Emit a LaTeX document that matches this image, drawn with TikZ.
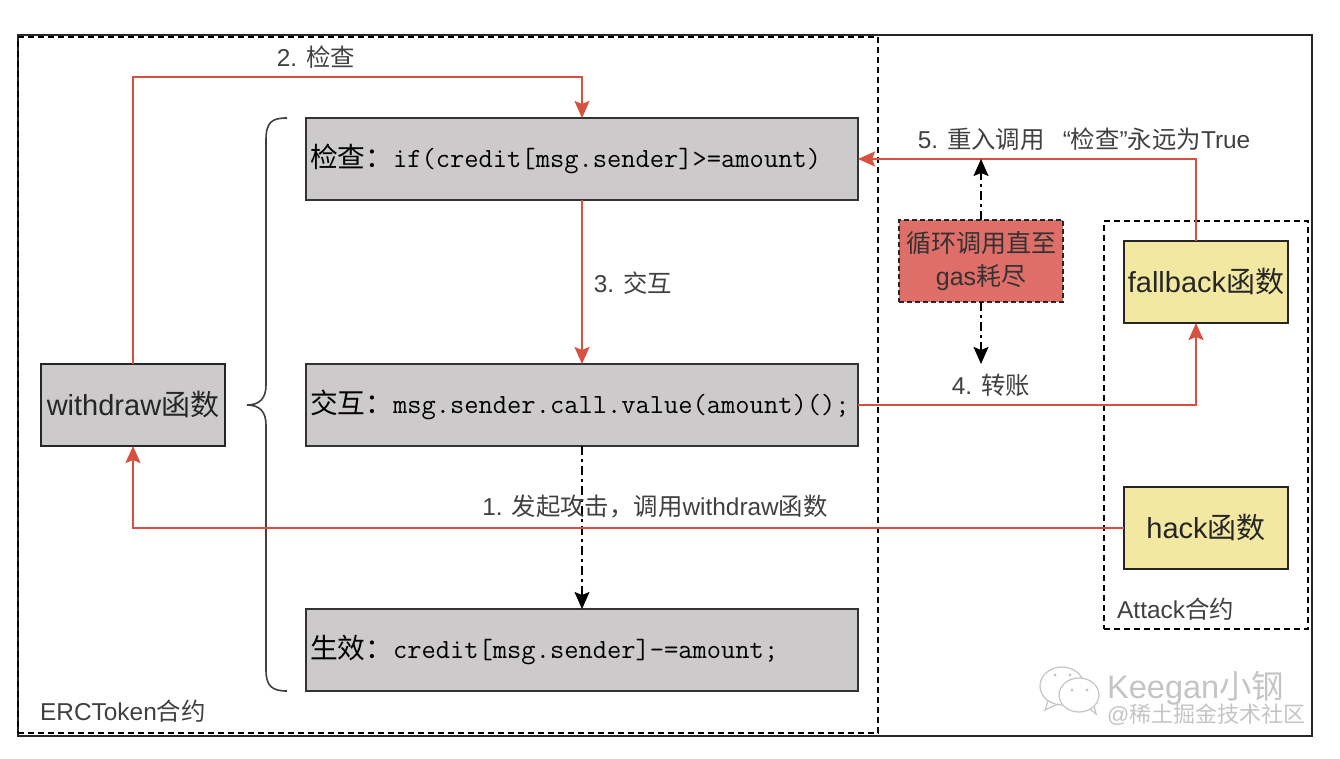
\documentclass[tikz,border=0pt]{standalone}
\usepackage{fontspec}
\setmainfont{Liberation Sans}
\newfontfamily\cjkfont{Noto Sans CJK SC}
\newcommand{\zh}[1]{{\cjkfont #1}}
\newcommand{\steptext}[2]{\raisebox{-2pt}{\zh{#1}#2}}
\usetikzlibrary{arrows.meta}
\definecolor{boxgray}{HTML}{CCCACA}
\definecolor{boxyellow}{HTML}{F3E8A2}
\definecolor{linered}{HTML}{D8503F}
\definecolor{loopred}{HTML}{E06E68}
\definecolor{marktext}{HTML}{C4C4C4}
\tikzset{
    stepbox/.style={draw=black!80,line width=1.8pt,fill=boxgray,minimum height=82pt,inner sep=4pt,outer sep=0pt,
        text width=544pt,align=left,font=\fontsize{27.7}{32}\selectfont\ttfamily},
    funcbox/.style={draw=black!85,line width=1.8pt,minimum height=82pt,inner sep=0pt,outer sep=0pt,text=black!85,font=\fontsize{29}{34}\selectfont},
    steplabel/.style={font=\fontsize{24.4}{28}\selectfont,text=black!75,inner sep=0pt},
    redline/.style={draw=linered,line width=2.2pt,-{Stealth[length=17pt,width=15pt,inset=3pt]}},
    loopline/.style={draw=black,line width=1.6pt,dash pattern=on 9pt off 4pt on 3pt off 4pt,-{Stealth[length=17pt,width=15pt,inset=3pt]}},
    framebox/.style={draw=black,line width=1.6pt,dash pattern=on 6pt off 4pt},
}
\begin{document}
\begin{tikzpicture}[x=1pt,y=-1pt]
    \useasboundingbox (0,0) rectangle (1340,759);

    \draw [line width=2.4pt,black!85](18,35) rectangle (1312,736);
    \node [framebox,minimum width=860pt,minimum height=696pt,inner sep=0pt] (erc) at (448,385) {};
    \node [framebox,minimum width=204pt,minimum height=408pt,inner sep=0pt] (attack) at (1206,425) {};
    \node [steplabel,anchor=west] (erclabel) at (40,711) {ERCToken\zh{合约}};
    \node [steplabel,anchor=west] (attacklabel) at (1117,609) {Attack\zh{合约}};

    \node [stepbox] (check) at (582,159) {\steptext{检查：}{if(credit[msg.sender]>=amount)}};
    \node [stepbox] (interact) at (582,405) {\steptext{交互：}{msg.sender.call.value(amount)();}};
    \node [stepbox] (effect) at (582,650) {\steptext{生效：}{credit[msg.sender]-=amount;}};

    \node [funcbox,fill=boxgray,minimum width=184pt] (withdraw) at (133,405) {withdraw\zh{函数}};
    \node [funcbox,fill=boxyellow,minimum width=164pt] (fallback) at (1206,282) {fallback\zh{函数}};
    \node [funcbox,fill=boxyellow,minimum width=164pt] (hack) at (1206,528) {hack\zh{函数}};
    \node [draw=black!85,line width=1.6pt,dash pattern=on 5pt off 3pt,fill=loopred,minimum width=164pt,minimum height=82pt,
        inner sep=0pt,outer sep=0pt,align=center,text=black!80,font=\fontsize{25}{33}\selectfont] (loop) at (981,261) {\zh{循环调用直至}\\gas\zh{耗尽}};

    % brace in front of the three steps
    \draw [line width=1.6pt,black!75](287,118) .. controls (272,118) and (266,122) .. (266,140) -- (266,385)
        .. controls (266,398) and (260,405) .. (247,405) .. controls (260,405) and (266,412) .. (266,425)
        -- (266,670) .. controls (266,686) and (272,691) .. (287,691);

    \coordinate (backup) at (981,159);
    \coordinate (backdown) at (981,364);

    \draw [redline](withdraw.north) -- (133,77) -- (582,77) -- (check.north);
    \draw [redline](check.south) -- (interact.north);
    \draw [loopline](interact.south) -- (effect.north);
    \draw [redline](hack.west) -- (133,528) -- (withdraw.south);
    \draw [redline](interact.east) -- (1196,405) -- (1196,323);
    \draw [redline](1196,241) -- (1196,159) -- (check.east);
    \draw [loopline](loop.north) -- (backup);
    \draw [loopline](loop.south) -- (backdown);

    \node [steplabel] (label1) at (655,507) {1. \zh{发起攻击，调用}withdraw\zh{函数}};
    \node [steplabel] (label2) at (316,57) {2. \zh{检查}};
    \node [steplabel] (label3) at (633,283) {3. \zh{交互}};
    \node [steplabel] (label4) at (991,385) {4. \zh{转账}};
    \node [steplabel] (label5) at (1084,139) {5. \zh{重入调用}\hspace{18pt}“\zh{检查}”\zh{永远为}True};

    % watermark
    \draw [marktext,line width=1.2pt,fill=white](1062,686) ellipse (22pt and 19pt);
    \draw [marktext,line width=1.2pt](1048,701) -- (1045,710) -- (1058,704);
    \draw [marktext,line width=1.2pt,fill=white](1079,695) ellipse (20pt and 17pt);
    \draw [marktext,line width=1.2pt](1090,709) -- (1096,714) -- (1094,706);
    \foreach \px/\py in {1055/675,1070/675,1072/690,1087/690}
        \fill [marktext](\px,\py) circle (1.6pt);
    \node [anchor=west,inner sep=0pt,text=marktext,font=\fontsize{32.5}{36}\selectfont] (markname) at (1107,688) {Keegan\zh{小钢}};
    \node [anchor=west,inner sep=0pt,text=marktext,font=\fontsize{22}{26}\selectfont] (marksite) at (1107,715) {@\zh{稀土掘金技术社区}};
\end{tikzpicture}
\end{document}
